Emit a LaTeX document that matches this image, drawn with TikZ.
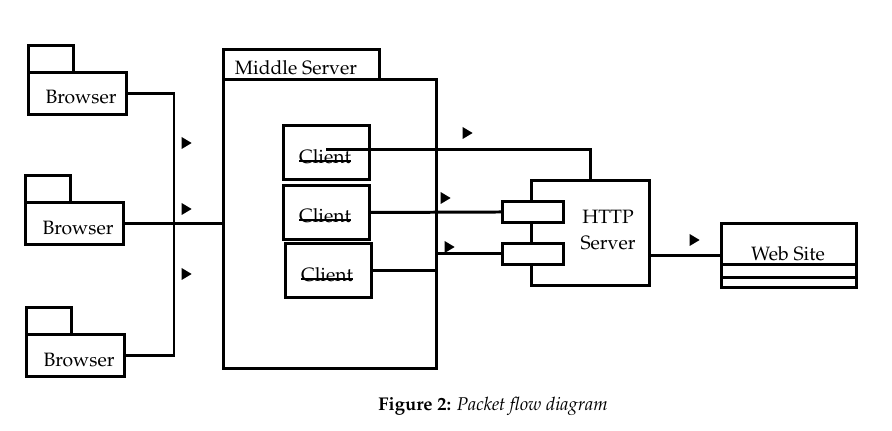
\documentclass[tikz,border=0pt]{standalone}
\usepackage[T1]{fontenc}
\usepackage{mathpazo}
\usetikzlibrary{positioning,shapes.geometric}
\newcommand{\crossed}[1]{\setbox0\hbox{#1}\rlap{\rule[0.25ex]{\wd0}{0.6pt}}\box0}
\tikzset{
    box/.style={
    rectangle,draw=black,line width=1.7pt,fill=white,inner sep=0pt,anchor=north west
    },
    pkgtab/.style={box,minimum width=0.9cm,minimum height=0.54cm},
    pkgbody/.style={box,minimum width=1.96cm,minimum height=0.84cm},
    client/.style={box,minimum width=1.72cm,minimum height=1.08cm},
    port/.style={box,minimum width=1.22cm,minimum height=0.42cm},
    lbl/.style={inner sep=0pt,font=\fontsize{11}{14.5}\selectfont},
    flow/.style={isosceles triangle,isosceles triangle stretches,fill=black,inner sep=0pt,minimum width=0.24cm,minimum height=0.2cm},
  line/.style={draw,line width=1.7pt}
}
\begin{document}
\begin{tikzpicture}[x=0.02cm,y=-0.02cm]
    \useasboundingbox (0,0) rectangle (892,431);

    \node[pkgtab] (t1) at (27,44) {};
    \node[pkgbody] (b1) at (27,71) {};
    \node[pkgtab] (t2) at (24,174) {};
    \node[pkgbody] (b2) at (24,201) {};
    \node[pkgtab] (t3) at (25,306) {};
    \node[pkgbody] (b3) at (25,333) {};
    \node[lbl] (lb1) at (81,97) {Browser};
    \node[lbl] (lb2) at (78,228) {Browser};
    \node[lbl] (lb3) at (79,360) {Browser};

    \node[box,minimum width=3.12cm,minimum height=0.6cm] (mstab) at (222,48) {};
    \node[box,minimum width=4.26cm,minimum height=5.78cm] (ms) at (222,78) {};
    \node[lbl] (lms) at (296,68) {Middle Server};

    \node[client] (c1) at (282,124) {};
    \node[client] (c2) at (282,184) {};
    \node[client] (c3) at (284,242) {};
    \node[lbl] (lc1) at (325,157) {\crossed{Client}};
    \node[lbl] (lc2) at (325,216) {\crossed{Client}};
    \node[lbl] (lc3) at (327,275) {\crossed{Client}};

    \node[box,minimum width=2.36cm,minimum height=2.1cm] (hs) at (530,179) {};
    \node[port] (p1) at (501,200) {};
    \node[port] (p2) at (501,242) {};
    \node[lbl,align=center] (lhs) at (608,230) {HTTP\\Server};

    \node[box,minimum width=2.7cm,minimum height=1.28cm] (ws) at (720,222) {};
    \node[lbl] (lws) at (788,254) {Web Site};

    \node[flow] (a1) at (185,143) {};
    \node[flow] (a2) at (185,209) {};
    \node[flow] (a3) at (185,274) {};
    \node[flow] (a4) at (466,133) {};
    \node[flow] (a5) at (444,198) {};
    \node[flow] (a6) at (448,247) {};
    \node[flow] (a7) at (693,240) {};

    \coordinate (hub) at (174,222);

    \node[lbl,font=\fontsize{10.5}{12}\selectfont] (cap) at (493,406) {\textbf{Figure 2:} \textit{Packet flow diagram}};

    \begin{scope} [every path/.style=line]
      \path (b1.east) -| (hub) |- (b3.east);
      \path (b2.east) -- (ms.west |- b2.east);
      \path ([yshift=0.06cm]c1.center) -| (hs.north);
      \path (c2.east) -- (p1.west);
      \path (c3.east) -- (ms.east |- c3.east);
      \path (ms.east |- p2.west) -- (p2.west);
      \path (hs.east |- ws.west) -- (ws.west);
      \path ([yshift=0.48cm]ws.south west) -- ([yshift=0.48cm]ws.south east);
      \path ([yshift=0.22cm]ws.south west) -- ([yshift=0.22cm]ws.south east);
    \end{scope}

\end{tikzpicture}
\end{document}
